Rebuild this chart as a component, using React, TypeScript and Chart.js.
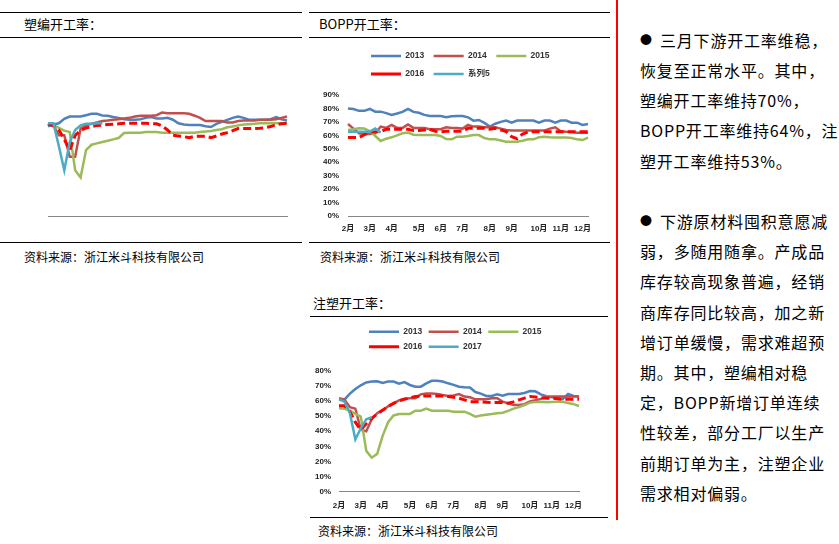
import React, { useEffect, useRef } from 'react';
import { Chart, registerables } from 'chart.js';
Chart.register(...registerables);

// ---------- data ----------
const monthNames = ['2月', '3月', '4月', '5月', '6月', '7月', '8月', '9月', '10月', '11月', '12月'];
const monthTickIndex = [0, 4, 8, 13, 17, 21, 26, 30, 35, 39, 43];
const weekCount = 45;
const weekLabels = Array.from({ length: weekCount }, (_, i) => {
  const k = monthTickIndex.indexOf(i);
  return k >= 0 ? monthNames[k] : '';
});

const namesBopp = ['2013', '2014', '2015', '2016', '系列5'];
const namesOther = ['2013', '2014', '2015', '2016', '2017'];
const seriesColors = ['#4F81BD', '#C0504D', '#9BBB59', '#FF0000', '#4BACC6'];

// 塑编开工率 (%)
const sb2013 = [66.7, 68, 69, 72.3, 74, 74, 74, 75, 76, 76, 74.8, 74.6, 73.6, 73, 72, 71.6, 71.6, 72, 73, 73.6, 72.6, 72.6, 73, 71.6, 69, 68, 67.7, 67.7, 67.7, 66.8, 66.2, 68.5, 70, 71.5, 73, 74, 73, 71.6, 71.6, 71.6, 71.6, 72, 73.5, 72, 71];
const sb2014 = [68.6, 67.5, 60, 60, 44, 44, 65, 67.4, 68.6, 69.6, 70.6, 71, 71.6, 72, 72.6, 73, 74, 74.6, 74.6, 74.6, 75, 77, 76.5, 76.5, 76.5, 76.5, 76, 74.6, 73, 70.6, 70.6, 70.6, 70.6, 69.6, 69.6, 70.6, 71, 71, 71, 71.6, 71.6, 71.6, 72, 73, 74];
const sb2015 = [69, 67.5, 65.5, 63.5, 62.5, 34, 28.6, 49, 53, 54, 55, 56, 57, 58, 61.7, 62, 62, 62, 62.4, 62.4, 62.4, 62, 62, 62, 62, 62, 62, 62, 62.4, 62.8, 63.2, 64, 64.5, 66, 66.5, 67.4, 68, 68.3, 68.6, 69, 69, 69, 69, 69, 69];
const sb2016 = [68.6, 67, 64, 57, 49, 60, 63.5, 65.5, 66.5, 67.4, 67.6, 68, 68.3, 68.6, 69, 69, 69, 69, 69, 68.6, 68.6, 67, 64, 60, 59.5, 59, 58.3, 59.3, 59.3, 59.3, 58.3, 59.5, 61, 62, 63.5, 65, 65, 65, 65, 65.3, 65.7, 66.5, 68, 68.6, 69];
const sb2017 = [69, 69, 52, 34, 55, 64, 67.4, 68.6, 68.6, 69, 69];

// BOPP开工率 (%)
const bp2013 = [80, 79.5, 78.2, 78.2, 79.6, 77.6, 77.6, 76.5, 75.2, 76.2, 77.4, 79.6, 77.4, 76.8, 75.2, 74.4, 74.4, 74.4, 73.4, 74.2, 74.4, 74.4, 73.4, 70.9, 71.4, 69.2, 66.5, 68.6, 70, 71, 69.4, 71, 71, 71, 71, 69.4, 71, 71, 69.4, 71, 71, 69.4, 69.4, 67.7, 68.4];
const bp2014 = [68.4, 65, 61.5, 61, 61, 61.5, 66.5, 65.5, 67.7, 65.5, 65.5, 68, 65.5, 65.5, 65.5, 64.5, 64.5, 64.5, 66, 65.5, 65.5, 65, 67.7, 66.5, 66.5, 66, 66, 66, 65, 64, 63.5, 63.5, 63.5, 63.5, 63.5, 63.5, 63.5, 65, 66, 63, 62.7, 62.5, 62, 62, 62];
const bp2015 = [64, 64.5, 65.2, 65, 63, 59.5, 55.8, 57.5, 58.5, 60, 61.5, 62, 60.4, 60.2, 60.2, 60.2, 60.2, 59.5, 57.2, 57, 59, 59, 59.5, 60.2, 60.2, 58, 57, 57, 56.2, 55.3, 55.3, 55.3, 56, 57, 57, 58.5, 59, 58.5, 58.3, 58.3, 58.3, 58, 57, 56.5, 58.3];
const bp2016 = [58.3, 58.3, 58.3, 60.5, 62.5, 62.7, 62.7, 64.5, 64.5, 64.5, 64.5, 64.5, 63.5, 63.5, 64, 64.5, 63, 62.7, 63, 63, 63, 63, 65.2, 65.2, 65.2, 65.2, 64.5, 65.2, 64, 62.7, 59, 57.5, 61, 62.5, 62.7, 62.7, 62.7, 62.7, 62.7, 62.7, 62.7, 62.7, 62.7, 62.7, 62.7];
const bp2017 = [62.7, 62.7, 62.7, 62.7, 62.7, 65, 62];

// 注塑开工率 (%)
const zs2013 = [61.2, 61, 65, 68, 70.5, 72.4, 73, 73.2, 72, 73, 73, 71.6, 72.6, 70.7, 69.6, 69.6, 71.8, 73.5, 73.5, 73, 71.8, 70.8, 69.5, 69.2, 69, 66, 65, 63.4, 63.4, 64.5, 63.6, 64.7, 64.7, 64.7, 65.4, 66.7, 66.5, 64.5, 63.2, 62.5, 62, 61.3, 64.7, 63.4, 63];
const zs2014 = [61.9, 61, 56, 55, 41, 40, 48, 52, 54, 56.5, 58.5, 60.5, 61.5, 61.9, 61.9, 64.5, 65.1, 65.1, 64.8, 64, 63.4, 63.8, 64.7, 63, 62.5, 61.2, 61.2, 61.2, 61.9, 61.9, 59.7, 58.5, 57.4, 57.4, 58, 59.8, 60.6, 61.5, 62.5, 63, 63, 63, 63, 63, 63];
const zs2015 = [55.2, 55, 53.6, 51.5, 49.7, 27, 22.5, 25, 37, 46, 50.5, 51.4, 51.4, 51.5, 53.6, 53.6, 55, 53.6, 53.6, 53.6, 53.6, 53, 53, 53, 51.5, 49.7, 50.5, 51, 51.4, 51.9, 52.3, 53.5, 55, 56, 57.4, 59, 59.4, 59.6, 59.2, 59.4, 59.6, 59.6, 58.8, 58, 56.8];
const zs2016 = [57, 57, 53, 46, 41, 45, 48.5, 51.5, 54, 56.5, 58.5, 60.2, 61.2, 62.3, 63, 63.4, 63.4, 63.4, 63.4, 63.4, 63, 62.5, 61.9, 60.8, 59.6, 59.6, 59.6, 59.2, 59, 59, 59, 58.6, 59.5, 60.8, 62, 63, 62.8, 62.3, 61.9, 62, 61.5, 61.2, 61.2, 61.2, 61.2];
const zs2017 = [61.2, 59.6, 52, 34.6, 42, 48, 49.3];

// ---------- chart helpers ----------
const axisFont = { family: "'Liberation Sans', 'Noto Sans CJK SC', sans-serif", size: 8, weight: 'bold' as const };
const legendFont = { family: "'Liberation Sans', 'Noto Sans CJK SC', sans-serif", size: 8.5, weight: 'bold' as const };

function buildDatasets(names: string[], values: number[][]) {
  return names.map((name, i) => ({
    label: name,
    data: values[i],
    borderColor: seriesColors[i],
    backgroundColor: seriesColors[i],
    borderWidth: i === 3 ? 3 : 2.5,
    borderDash: i === 3 ? [8, 4] : [],
    pointRadius: 0,
    pointHoverRadius: 0,
    tension: 0,
    fill: false,
    order: names.length - i,
  }));
}

const legendShiftPlugin = {
  id: 'legendShift',
  afterLayout(chart: any, _args: any, opts: any) {
    const lg = chart.legend;
    if (lg && opts && opts.dx) {
      lg.left += opts.dx;
      lg.right += opts.dx;
    }
  },
};

type Cfg = {
  names: string[];
  values: number[][];
  showLegend: boolean;
  legendPadding: number;
  legendDx: number;
  padding: { top: number; left: number; right: number; bottom: number };
  yMax: number;
  showY: boolean;
  yWidth: number;
  yPad: number;
  showXTicks: boolean;
  xHeight: number;
  xPad: number;
};

function makeConfig(c: Cfg): any {
  return {
    type: 'line',
    data: { labels: weekLabels, datasets: buildDatasets(c.names, c.values) },
    plugins: [legendShiftPlugin],
    options: {
      animation: false,
      responsive: false,
      devicePixelRatio: 1,
      events: [],
      layout: { padding: c.padding },
      plugins: {
        tooltip: { enabled: false },
        legendShift: { dx: c.legendDx },
        legend: {
          display: c.showLegend,
          position: 'top',
          align: 'start',
          fullSize: false,
          labels: {
            usePointStyle: true,
            pointStyle: 'line',
            pointStyleWidth: 30,
            padding: c.legendPadding,
            font: legendFont,
            color: '#333',
            sort: (a: any, b: any) => a.datasetIndex - b.datasetIndex,
          },
        },
      },
      scales: {
        x: {
          type: 'category',
          display: true,
          grid: { display: false, drawTicks: false },
          border: { display: true, color: '#868686', width: 1 },
          ticks: {
            display: c.showXTicks,
            autoSkip: false,
            maxRotation: 0,
            minRotation: 0,
            padding: c.xPad,
            font: axisFont,
            color: '#222',
          },
          afterFit: (s: any) => { s.height = c.xHeight; },
        },
        y: {
          display: c.showY,
          min: 0,
          max: c.yMax,
          grid: { display: false, drawTicks: false },
          border: { display: false },
          ticks: {
            stepSize: 10,
            includeBounds: false,
            padding: c.yPad,
            font: axisFont,
            color: '#222',
            callback: (v: any) => v + '%',
          },
          afterFit: (s: any) => { s.width = c.yWidth; },
        },
      },
    },
  };
}

function LineChart(props: { left: number; top: number; width: number; height: number; cfg: Cfg }) {
  const ref = useRef<HTMLCanvasElement>(null);
  useEffect(() => {
    const chart = new Chart(ref.current as HTMLCanvasElement, makeConfig(props.cfg));
    return () => chart.destroy();
  }, []);
  return (
    <canvas
      ref={ref}
      width={props.width}
      height={props.height}
      style={{ position: 'absolute', left: props.left, top: props.top, width: props.width, height: props.height }}
    />
  );
}

// ---------- layout helpers ----------
const cjk = "'Noto Sans CJK SC', 'Liberation Sans', sans-serif";

function HLine(p: { x: number; y: number; w: number }) {
  return <div style={{ position: 'absolute', left: p.x, top: p.y, width: p.w, height: 1, background: '#000' }} />;
}

function Label(p: { x: number; y: number; size: number; text: string }) {
  return (
    <div style={{ position: 'absolute', left: p.x, top: p.y, fontSize: p.size, lineHeight: '16px', whiteSpace: 'nowrap', color: '#000' }}>
      {p.text}
    </div>
  );
}

const sideLines: { text: string; bullet?: boolean; full?: boolean }[] = [
  { text: '三月下游开工率维稳，', bullet: true, full: true },
  { text: '恢复至正常水平。其中，', full: true },
  { text: '塑编开工率维持70%，' },
  { text: 'BOPP开工率维持64%，注', full: true },
  { text: '塑开工率维持53%。' },
  { text: '' },
  { text: '下游原材料囤积意愿减', bullet: true, full: true },
  { text: '弱，多随用随拿。产成品', full: true },
  { text: '库存较高现象普遍，经销', full: true },
  { text: '商库存同比较高，加之新', full: true },
  { text: '增订单缓慢，需求难超预', full: true },
  { text: '期。其中，塑编相对稳' },
  { text: '定，BOPP新增订单连续' },
  { text: '性较差，部分工厂以生产', full: true },
  { text: '前期订单为主，注塑企业', full: true },
  { text: '需求相对偏弱。' },
];

const source = '资料来源：浙江米斗科技有限公司';

export default function App() {
  const cfgSb: Cfg = {
    names: namesOther,
    values: [sb2013, sb2014, sb2015, sb2016, sb2017],
    showLegend: false,
    legendPadding: 9,
    legendDx: 0,
    padding: { top: 15, left: 48, right: 15, bottom: 4 },
    yMax: 90,
    showY: false,
    yWidth: 0,
    yPad: 0,
    showXTicks: false,
    xHeight: 0,
    xPad: 0,
  };
  const cfgBopp: Cfg = {
    names: namesBopp,
    values: [bp2013, bp2014, bp2015, bp2016, bp2017],
    showLegend: true,
    legendPadding: 9.5,
    legendDx: 13.5,
    padding: { top: 4.25, left: 0, right: 20, bottom: 0 },
    yMax: 95,
    showY: true,
    yWidth: 38,
    yPad: 9,
    showXTicks: true,
    xHeight: 22,
    xPad: 8,
  };
  const cfgZs: Cfg = {
    names: namesOther,
    values: [zs2013, zs2014, zs2015, zs2016, zs2017],
    showLegend: true,
    legendPadding: 6.5,
    legendDx: 23.5,
    padding: { top: 3, left: 0, right: 29, bottom: 0 },
    yMax: 86.6,
    showY: true,
    yWidth: 29,
    yPad: 8,
    showXTicks: true,
    xHeight: 23.4,
    xPad: 9.4,
  };

  return (
    <div style={{ position: 'absolute', left: 0, top: 0, width: 839, height: 544, background: '#fff', fontFamily: cjk, overflow: 'hidden' }}>
      {/* left panel */}
      <HLine x={0} y={12} w={302} />
      <HLine x={0} y={37} w={302} />
      <HLine x={0} y={242} w={302} />
      <Label x={24} y={16} size={13} text="塑编开工率：" />
      <Label x={24} y={249} size={12} text={source} />
      <LineChart left={0} top={80} width={302} height={140} cfg={cfgSb} />

      {/* middle panel: BOPP */}
      <HLine x={309} y={12} w={301} />
      <HLine x={309} y={37} w={301} />
      <HLine x={309} y={242} w={301} />
      <Label x={319} y={16} size={13} text="BOPP开工率：" />
      <Label x={320} y={249} size={12} text={source} />
      <LineChart left={310} top={38} width={298} height={200} cfg={cfgBopp} />

      {/* middle panel: 注塑 */}
      <Label x={313} y={295} size={13} text="注塑开工率：" />
      <HLine x={310} y={316} w={298} />
      <HLine x={310} y={517} w={298} />
      <Label x={318} y={523} size={12} text={source} />
      <LineChart left={310} top={318} width={298} height={197} cfg={cfgZs} />

      {/* red divider */}
      <div style={{ position: 'absolute', left: 616, top: 0, width: 2, height: 520, background: '#FF0000' }} />

      {/* right text */}
      <div style={{ position: 'absolute', left: 640, top: 24.9, width: 190, fontSize: 16, lineHeight: '30.2px', color: '#000' }}>
        {sideLines.map((ln, i) => (
          <div key={i} style={{ height: 30.2, whiteSpace: 'nowrap', display: 'flex', alignItems: 'center' }}>
            {ln.bullet ? (
              <span style={{ display: 'inline-block', width: 20, fontSize: 12 }}>●</span>
            ) : null}
            <span
              style={{
                display: 'inline-block',
                letterSpacing: '0.8px',
                width: ln.full ? (ln.bullet ? 165 : 185) : undefined,
                textAlign: ln.full ? 'justify' : 'left',
                textAlignLast: ln.full ? 'justify' : 'auto',
              } as any}
            >
              {ln.text}
            </span>
          </div>
        ))}
      </div>
    </div>
  );
}
